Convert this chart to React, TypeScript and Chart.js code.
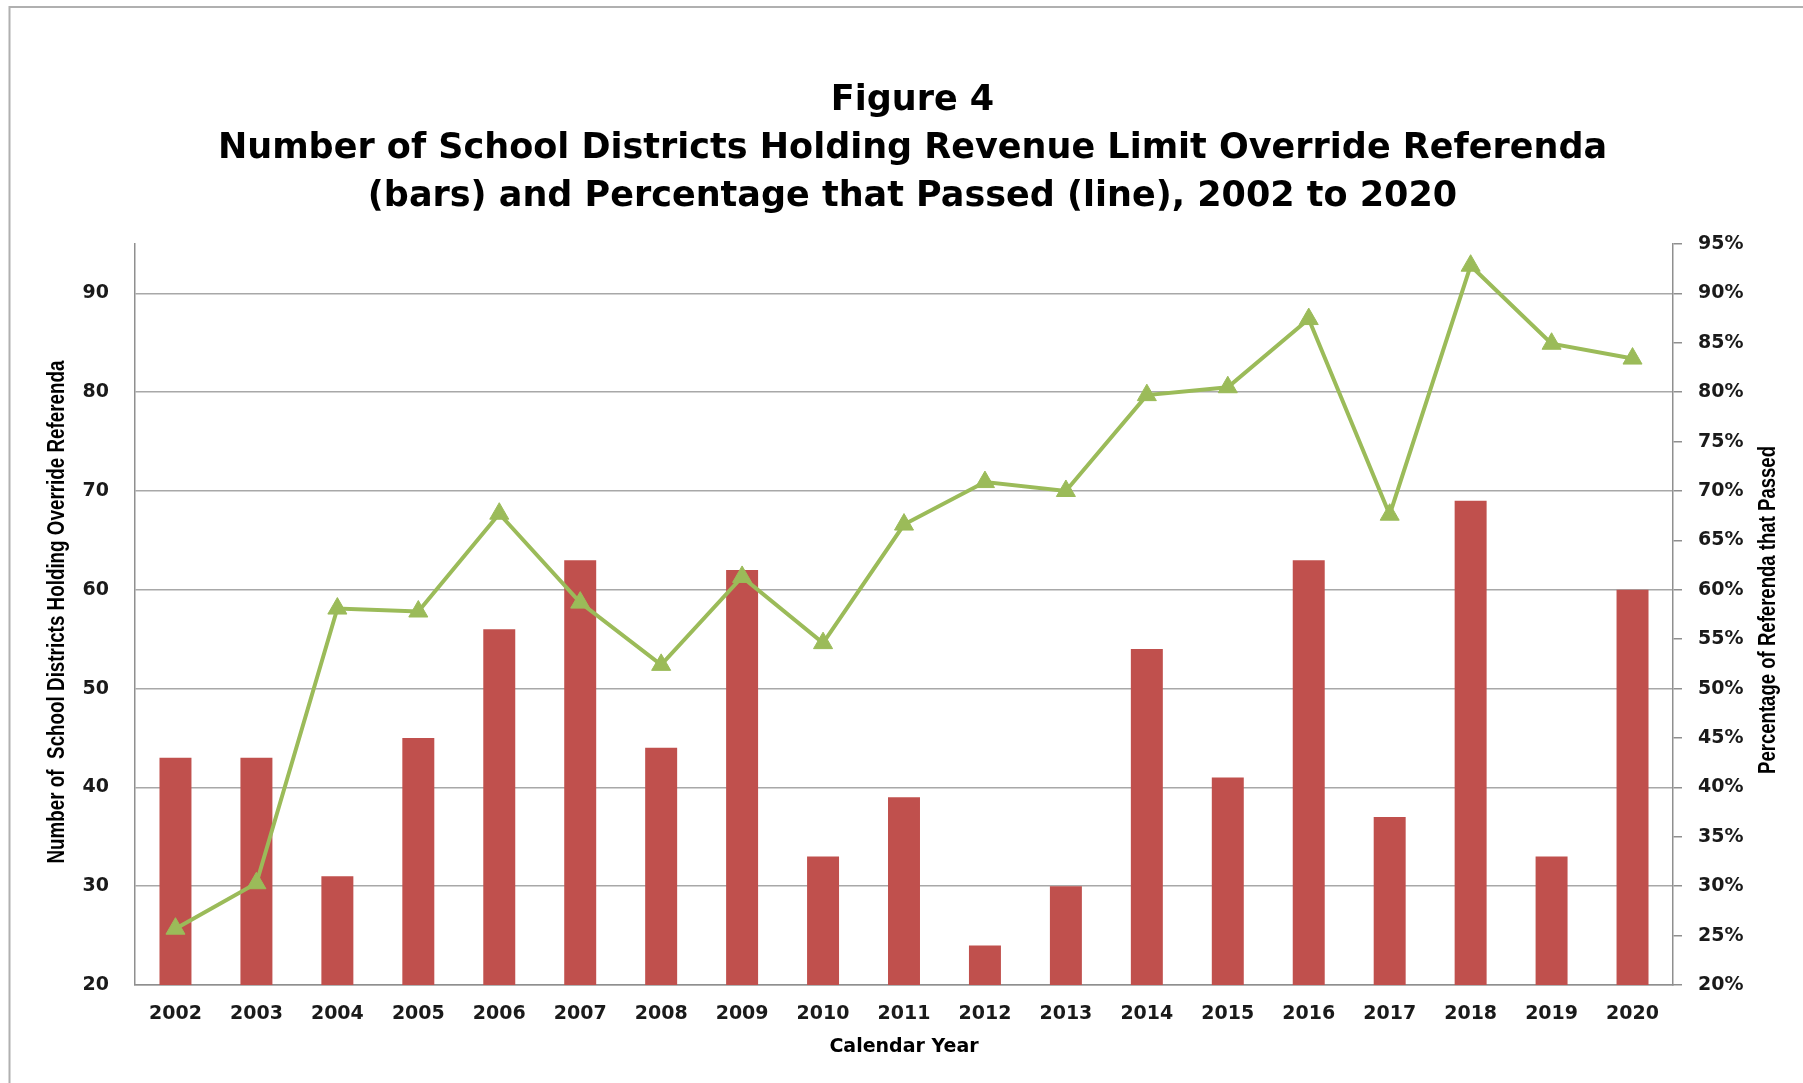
import React, { useEffect, useRef } from "react";
import { Chart, registerables } from "chart.js";

Chart.register(...registerables);

const years = ["2002", "2003", "2004", "2005", "2006", "2007", "2008", "2009", "2010", "2011", "2012", "2013", "2014", "2015", "2016", "2017", "2018", "2019", "2020"];
const districts = [43, 43, 31, 45, 56, 63, 44, 62, 33, 39, 24, 30, 54, 41, 63, 37, 69, 33, 60];
const passPct = [25.7, 30.3, 58.1, 57.8, 67.7, 58.7, 52.4, 61.3, 54.6, 66.6, 70.9, 70.0, 79.7, 80.5, 87.4, 67.6, 92.8, 84.9, 83.4];
const leftTicks = [20, 30, 40, 50, 60, 70, 80, 90];
const titleLines = [
  "Figure 4",
  "Number of School Districts Holding Revenue Limit Override Referenda",
  "(bars) and Percentage that Passed (line), 2002 to 2020",
];
const leftTitle = "Number of  School Districts Holding Override Referenda";
const rightTitle = "Percentage of Referenda that Passed";
const xTitle = "Calendar Year";

const AXIS_TITLE_FONT = "'Liberation Sans', 'DejaVu Sans', sans-serif";
const TICK_FONT = "'DejaVu Sans', sans-serif";

const framePlugin = {
  id: "frame",
  beforeDraw(chart: any) {
    const ctx = chart.ctx;
    ctx.save();
    ctx.strokeStyle = "#b0b0b0";
    ctx.lineWidth = 2;
    ctx.beginPath();
    ctx.moveTo(9.5, chart.height);
    ctx.lineTo(9.5, 7);
    ctx.lineTo(chart.width, 7);
    ctx.stroke();
    ctx.restore();
  },
};

function drawVerticalTitle(ctx: any, text: string, cx: number, cy: number, length: number) {
  ctx.save();
  ctx.font = `bold 23px ${AXIS_TITLE_FONT}`;
  const w = ctx.measureText(text).width;
  const sx = Math.min(1, length / w);
  ctx.translate(cx, cy);
  ctx.rotate(-Math.PI / 2);
  ctx.scale(sx, 1);
  ctx.fillStyle = "#000";
  ctx.textAlign = "center";
  ctx.textBaseline = "middle";
  ctx.fillText(text, 0, 0);
  ctx.restore();
}

const axisTitlesPlugin = {
  id: "axisTitles",
  afterDraw(chart: any) {
    const ctx = chart.ctx;
    const l = chart.scales.y;
    const r = chart.scales.y1;
    drawVerticalTitle(ctx, leftTitle, l.left + 36, (l.top + l.bottom) / 2 - 2.5, 503);
    drawVerticalTitle(ctx, rightTitle, r.right - 34, (r.top + r.bottom) / 2 - 4.5, 328);
  },
};

export default function App() {
  const ref = useRef<HTMLCanvasElement | null>(null);

  useEffect(() => {
    if (!ref.current) return;
    const tickFont = { family: TICK_FONT, size: 19, weight: "bold" as const };
    const chart = new Chart(ref.current, {
      type: "bar",
      data: {
        labels: years,
        datasets: [
          {
            type: "line",
            label: "Percentage that Passed",
            data: passPct,
            yAxisID: "y1",
            borderColor: "#9BBB59",
            backgroundColor: "#9BBB59",
            borderWidth: 4,
            pointStyle: "triangle",
            pointRadius: 11,
            pointBorderWidth: 1,
            pointBackgroundColor: "#9BBB59",
            pointBorderColor: "#9BBB59",
            tension: 0,
            order: 0,
          } as any,
          {
            type: "bar",
            label: "Districts",
            data: districts,
            yAxisID: "y",
            backgroundColor: "#C0504D",
            barPercentage: 0.395,
            categoryPercentage: 1,
            order: 1,
          } as any,
        ],
      },
      options: {
        responsive: false,
        animation: false,
        devicePixelRatio: 1,
        layout: { padding: { left: 22, right: 0, top: 0, bottom: 0 } },
        plugins: {
          legend: { display: false },
          tooltip: { enabled: false },
          title: {
            display: true,
            text: titleLines,
            color: "#000",
            font: { family: "'DejaVu Sans', sans-serif", size: 35, weight: "bold", lineHeight: 1.371 },
            padding: { top: 77, bottom: 23 },
          },
        },
        scales: {
          x: {
            grid: { display: false },
            border: { display: true, color: "#8f8f8f", width: 1.5 },
            ticks: { color: "#1a1a1a", font: tickFont, padding: 10, maxRotation: 0, autoSkip: false },
            title: {
              display: true,
              text: xTitle,
              color: "#000",
              font: { family: "'DejaVu Sans', sans-serif", size: 19, weight: "bold", lineHeight: 1.2 },
              padding: { top: 0, bottom: 24.6 },
            },
            afterFit(scale: any) {
              scale.height = 98;
            },
          },
          y: {
            position: "left",
            min: 20,
            max: 95,
            afterBuildTicks(scale: any) {
              scale.ticks = leftTicks.map((v) => ({ value: v }));
            },
            grid: { color: "#a8a8a8", lineWidth: 1.5, drawTicks: false },
            border: { display: true, color: "#8f8f8f", width: 1.5 },
            ticks: { color: "#1a1a1a", font: tickFont, padding: 26 },
            title: { display: false },
            afterFit(scale: any) {
              scale.width = 113;
            },
          },
          y1: {
            position: "right",
            min: 20,
            max: 95,
            grid: { drawOnChartArea: false, drawTicks: true, tickLength: 9, color: "#8f8f8f", lineWidth: 1.5 },
            border: { display: true, color: "#8f8f8f", width: 1.5 },
            ticks: {
              stepSize: 5,
              color: "#1a1a1a",
              font: tickFont,
              padding: 16,
              callback: (v: any) => `${v}%`,
            },
            title: { display: false },
            afterFit(scale: any) {
              scale.width = 130;
            },
          },
        },
      },
      plugins: [framePlugin, axisTitlesPlugin],
    });
    return () => chart.destroy();
  }, []);

  return (
    <div style={{ position: "absolute", left: 0, top: 0, width: 1803, height: 1083, overflow: "hidden", background: "#fff" }}>
      <canvas ref={ref} width={1803} height={1083} style={{ display: "block", width: 1803, height: 1083 }} />
    </div>
  );
}
